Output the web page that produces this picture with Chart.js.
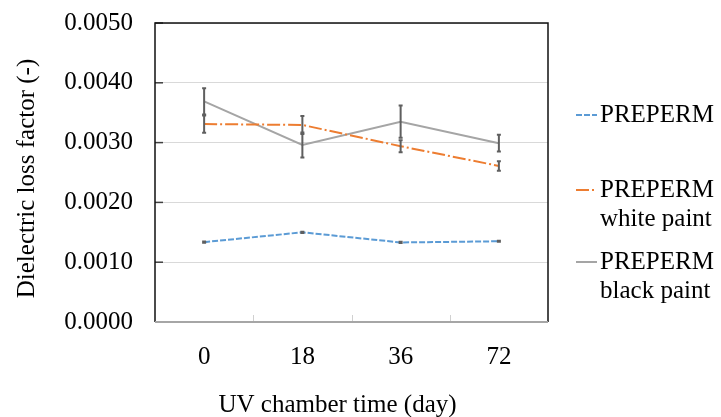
<!DOCTYPE html>
<html>
<head>
<meta charset="utf-8">
<script src="https://cdn.jsdelivr.net/npm/chart.js@4"></script>
<style>
html,body{margin:0;padding:0;background:#fff;}
#wrap{width:721px;height:417px;position:relative;}
</style>
</head>
<body>
<div id="wrap"><canvas id="c" width="721" height="417"></canvas></div>
<script>
// ---- data ----
const categories = ['0', '18', '36', '72'];
const prepermValues = [0.001335, 0.00150, 0.00133, 0.00135];
const prepermErrors = [0.00001, 0.00001, 0.00001, 0.00001];
const whiteValues = [0.00331, 0.003295, 0.00294, 0.00261];
const whiteErrors = [0.000145, 0.00015, 0.0001, 0.00008];
const blackValues = [0.00369, 0.00296, 0.00335, 0.00299];
const blackErrors = [0.00022, 0.00021, 0.00027, 0.00014];
const seriesLabels = [['PREPERM'], ['PREPERM', 'white paint'], ['PREPERM', 'black paint']];
const xTitle = 'UV chamber time (day)';
const yTitle = 'Dielectric loss factor (-)';
const yMin = 0, yMax = 0.005, yStep = 0.001;

const FONT = "'Liberation Serif', 'Times New Roman', serif";
const FS = 25;
const errColor = '#5f5f5f';

const errorBars = {
  id: 'errorBars',
  afterDatasetsDraw(chart) {
    const ctx = chart.ctx;
    const ys = chart.scales.y;
    chart.data.datasets.forEach((ds, i) => {
      const meta = chart.getDatasetMeta(i);
      ctx.save();
      ctx.strokeStyle = errColor;
      ctx.lineWidth = 2;
      meta.data.forEach((pt, j) => {
        const v = ds.data[j], e = ds.errors[j];
        const x = pt.x;
        const yt = ys.getPixelForValue(v + e);
        const yb = ys.getPixelForValue(v - e);
        ctx.beginPath();
        ctx.moveTo(x, yt); ctx.lineTo(x, yb);
        ctx.moveTo(x - 2, yt); ctx.lineTo(x + 2, yt);
        ctx.moveTo(x - 2, yb); ctx.lineTo(x + 2, yb);
        ctx.stroke();
      });
      ctx.restore();
    });
  }
};

const frame = {
  id: 'frame',
  beforeDatasetsDraw(chart) {
    const ctx = chart.ctx;
    const a = chart.chartArea;
    const ys = chart.scales.y;
    ctx.save();
    // inward y ticks
    ctx.strokeStyle = '#404040';
    ctx.lineWidth = 1.5;
    ys.ticks.forEach(t => {
      const y = ys.getPixelForValue(t.value);
      ctx.beginPath(); ctx.moveTo(a.left, y); ctx.lineTo(a.left + 8, y); ctx.stroke();
    });
    // inward x ticks at category boundaries
    ctx.strokeStyle = '#d0d0d0';
    ctx.lineWidth = 1;
    const n = categories.length;
    const w = (a.right - a.left) / n;
    for (let k = 1; k < n; k++) {
      const x = Math.round(a.left + k * w) + 0.5;
      ctx.beginPath(); ctx.moveTo(x, a.bottom); ctx.lineTo(x, a.bottom - 7); ctx.stroke();
    }
    // frame: top, right, left black; bottom grey
    ctx.strokeStyle = '#111';
    ctx.lineWidth = 1.5;
    ctx.beginPath();
    ctx.moveTo(a.left, a.bottom); ctx.lineTo(a.left, a.top); ctx.lineTo(a.right, a.top); ctx.lineTo(a.right, a.bottom);
    ctx.stroke();
    ctx.strokeStyle = '#a6a6a6';
    ctx.lineWidth = 2;
    ctx.beginPath(); ctx.moveTo(a.left, a.bottom); ctx.lineTo(a.right, a.bottom); ctx.stroke();
    ctx.restore();
  },
  afterDraw(chart) {
    const ctx = chart.ctx;
    const a = chart.chartArea;
    ctx.save();
    ctx.fillStyle = '#000';
    ctx.font = FS + 'px ' + FONT;
    ctx.textAlign = 'center';
    ctx.textBaseline = 'middle';
    // x title
    ctx.fillText(xTitle, (a.left + a.right) / 2 - 14, 405);
    // y title
    ctx.save();
    ctx.translate(27, (a.top + a.bottom) / 2 + 6);
    ctx.rotate(-Math.PI / 2);
    ctx.fillText(yTitle, 0, 0);
    ctx.restore();
    // legend
    const legendY = [115, 190, 262];
    const lineH = 29;
    ctx.textAlign = 'left';
    chart.data.datasets.forEach((ds, i) => {
      const y = legendY[i];
      ctx.save();
      ctx.strokeStyle = ds.borderColor;
      ctx.lineWidth = ds.borderWidth;
      ctx.setLineDash(ds.borderDash || []);
      ctx.beginPath(); ctx.moveTo(576, y); ctx.lineTo(597, y); ctx.stroke();
      ctx.restore();
      seriesLabels[i].forEach((line, k) => {
        ctx.fillText(line, 600, y + k * lineH);
      });
    });
    ctx.restore();
  }
};

new Chart(document.getElementById('c'), {
  type: 'line',
  data: {
    labels: categories,
    datasets: [
      { label: seriesLabels[0].join(' '), data: prepermValues, errors: prepermErrors,
        borderColor: '#5b9bd5', borderWidth: 2, borderDash: [6, 2], pointRadius: 0, fill: false, tension: 0 },
      { label: seriesLabels[1].join(' '), data: whiteValues, errors: whiteErrors,
        borderColor: '#ed7d31', borderWidth: 2, borderDash: [13, 3, 2, 3], pointRadius: 0, fill: false, tension: 0 },
      { label: seriesLabels[2].join(' '), data: blackValues, errors: blackErrors,
        borderColor: '#a5a5a5', borderWidth: 2, pointRadius: 0, fill: false, tension: 0 }
    ]
  },
  options: {
    responsive: false,
    animation: false,
    devicePixelRatio: 1,
    layout: { padding: { top: 23, right: 173, left: 0, bottom: 0 } },
    plugins: { legend: { display: false }, tooltip: { enabled: false } },
    scales: {
      x: {
        type: 'category',
        offset: true,
        grid: { display: false, drawTicks: false },
        border: { display: false },
        ticks: { color: '#000', font: { family: FONT, size: FS }, padding: 20, maxRotation: 0 },
        afterFit(s) { s.height = 95; s.paddingLeft = 0; s.paddingRight = 0; }
      },
      y: {
        min: yMin, max: yMax,
        grid: { color: '#d9d9d9', lineWidth: 1, drawTicks: false },
        border: { display: false },
        ticks: { stepSize: yStep, color: '#000', font: { family: FONT, size: FS }, padding: 22,
                 callback: v => v.toFixed(4) },
        afterFit(s) { s.width = 155; s.paddingTop = 0; s.paddingBottom = 0; }
      }
    }
  },
  plugins: [frame, errorBars]
});
</script>
</body>
</html>
